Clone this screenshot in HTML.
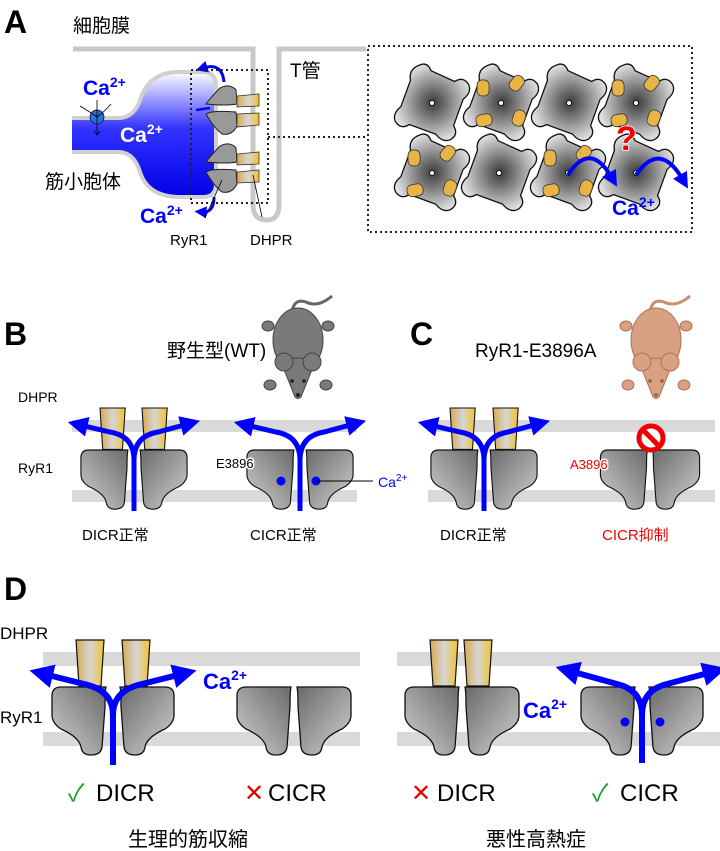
<!DOCTYPE html>
<html><head><meta charset="utf-8"><style>
html,body{margin:0;padding:0;background:#fff}
svg{display:block}
text{font-family:"Liberation Sans","Noto Sans CJK JP",sans-serif}
</style></head><body>
<svg width="720" height="851" viewBox="0 0 720 851" xmlns="http://www.w3.org/2000/svg">
<defs>
<linearGradient id="ry" x1="0" y1="1" x2="1" y2="0">
<stop offset="0" stop-color="#d2d2d2"/><stop offset="1" stop-color="#6a6a6a"/></linearGradient>
<linearGradient id="dh" x1="0" y1="0" x2="1" y2="0">
<stop offset="0" stop-color="#d9a94a"/><stop offset="0.5" stop-color="#d6d6d6"/><stop offset="1" stop-color="#f2c12e"/></linearGradient>
<linearGradient id="sr" x1="0" y1="0" x2="0" y2="1">
<stop offset="0" stop-color="#ffffff"/><stop offset="0.45" stop-color="#3333ff"/><stop offset="1" stop-color="#0000e6"/></linearGradient>
<radialGradient id="tile" cx="0.5" cy="0.5" r="0.6">
<stop offset="0" stop-color="#3a3a3a"/><stop offset="1" stop-color="#e0e0e0"/></radialGradient>
<marker id="ah" markerWidth="4" markerHeight="4" refX="1.5" refY="2" orient="auto" markerUnits="strokeWidth">
<path d="M0,0 L4,2 L0,4 Z" fill="#0000ff"/></marker>
<path id="half" d="M-3,0 L-48,0 Q-57,0 -57,9 L-57,28 Q-57,36 -48,42 Q-30,50 -28,60 Q-27,68 -18,68 Q-8,68 -7,60 L-4,20 Q-4,4 -3,0 Z" fill="url(#ry)" stroke="#111" stroke-width="1.3"/>
<g id="pairC"><use href="#half"/><use href="#half" transform="scale(-1,1)"/></g>
<g id="pairO"><use href="#half" transform="translate(-4,0)"/><use href="#half" transform="translate(4,0) scale(-1,1)"/></g>
<path id="dhp" d="M0,0 L28,0 L25,46 L3,46 Z" fill="url(#dh)" stroke="#111" stroke-width="1.2"/>
<g id="tl"><path d="M-24,-32 Q-18,-37 -12,-30 L14,-28 Q20,-36 28,-30 Q34,-24 28,-14 L28,14 Q36,20 30,28 Q24,34 14,28 L-14,28 Q-20,36 -28,30 Q-34,24 -28,14 L-28,-14 Q-34,-24 -24,-32 Z" fill="url(#tile)" stroke="#111" stroke-width="1.3" stroke-linejoin="round"/><circle r="2.5" fill="#fff" stroke="#000" stroke-width="0.8"/></g>
<rect id="yb" x="-6" y="-8" width="12" height="16" rx="5" fill="#e8b445" stroke="#333" stroke-width="0.8"/>
</defs>

<!-- Panel A -->
<text x="4" y="33" font-size="32" font-weight="bold">A</text>
<text x="73" y="32" font-size="19">細胞膜</text>
<path d="M73,49 L253,49 L253,205 Q253,220 267,220 Q279,220 279,205 L279,49 L366,49" fill="none" stroke="#c8c8c8" stroke-width="5"/>
<text x="290" y="77" font-size="19">T管</text>
<path d="M72,118 L118,118 Q134,118 140,100 Q148,74 175,72 L203,72 Q216,72 216,86 L216,184 Q216,197 203,197 L180,197 Q148,197 140,172 Q134,152 118,152 L72,152" fill="url(#sr)" stroke="#d0d0d0" stroke-width="4"/>
<text x="83" y="95" font-size="21" font-weight="bold" fill="#0000ff">Ca<tspan font-size="14" dy="-8">2+</tspan></text>
<text x="120" y="142" font-size="21" font-weight="bold" fill="#fff">Ca<tspan font-size="14" dy="-8">2+</tspan></text>
<circle cx="97" cy="117" r="7" fill="#2a6fd6" stroke="#114" stroke-width="0.8"/>
<path d="M80,106 Q90,112 97,117 Q104,112 111,104" fill="none" stroke="#000" stroke-width="0.8"/>
<path d="M97,100 L97,134 M94,131 L97,135 L100,131" fill="none" stroke="#000" stroke-width="0.8"/>
<text x="45" y="188" font-size="19">筋小胞体</text>
<text x="140" y="223" font-size="21" font-weight="bold" fill="#0000ff">Ca<tspan font-size="14" dy="-8">2+</tspan></text>
<path d="M224,82 Q222,62 203,68" fill="none" stroke="#0000ff" stroke-width="3" marker-end="url(#ah)"/>
<path d="M196,110 L210,108" stroke="#0000ff" stroke-width="2.5"/>
<path d="M214,197 Q214,213 202,212" fill="none" stroke="#0000ff" stroke-width="3" marker-end="url(#ah)"/>
<g fill="#999" stroke="#222" stroke-width="1">
<path d="M206,104 Q212,96 220,88 Q230,83 236,90 L237,104 Q226,106 206,104 Z"/>
<path d="M206,114 Q212,110 236,112 L237,126 Q232,136 222,134 Q214,128 206,114 Z"/>
<path d="M206,162 Q212,154 220,146 Q230,141 236,148 L237,162 Q226,164 206,162 Z"/>
<path d="M206,172 Q212,168 236,170 L237,184 Q232,194 222,192 Q214,186 206,172 Z"/>
</g>
<g fill="url(#dh)" stroke="#333" stroke-width="0.8">
<path d="M237,96 L259,94 L259,106 L237,107 Z"/><path d="M237,114 L259,113 L259,125 L237,127 Z"/>
<path d="M237,154 L259,152 L259,164 L237,165 Z"/><path d="M237,172 L259,170 L259,182 L237,183 Z"/>
</g>
<rect x="191" y="70" width="77" height="133" fill="none" stroke="#222" stroke-width="2" stroke-dasharray="2,3"/>
<path d="M268,137 L368,137" stroke="#222" stroke-width="2" stroke-dasharray="2,3"/>
<path d="M205,218 L222,180 M262,217 L253,175" stroke="#000" stroke-width="0.8"/>
<text x="170" y="245" font-size="15">RyR1</text>
<text x="250" y="245" font-size="15">DHPR</text>
<rect x="368" y="46" width="324" height="186" fill="none" stroke="#222" stroke-width="2" stroke-dasharray="2,3"/>
<g transform="translate(432,103) rotate(20)"><use href="#tl"/></g>
<g transform="translate(501,103) rotate(20)"><use href="#tl"/><use href="#yb" transform="translate(-22,-8) rotate(-20)"/><use href="#yb" transform="translate(8,-24) rotate(20)"/><use href="#yb" transform="translate(-10,22) rotate(60)"/><use href="#yb" transform="translate(22,8)"/></g>
<g transform="translate(569,103) rotate(20)"><use href="#tl"/></g>
<g transform="translate(636,103) rotate(20)"><use href="#tl"/><use href="#yb" transform="translate(-22,-8) rotate(-20)"/><use href="#yb" transform="translate(8,-24) rotate(20)"/><use href="#yb" transform="translate(-10,22) rotate(60)"/><use href="#yb" transform="translate(22,8)"/></g>
<g transform="translate(432,173) rotate(20)"><use href="#tl"/><use href="#yb" transform="translate(-22,-8) rotate(-20)"/><use href="#yb" transform="translate(8,-24) rotate(20)"/><use href="#yb" transform="translate(-10,22) rotate(60)"/><use href="#yb" transform="translate(22,8)"/></g>
<g transform="translate(499,173) rotate(20)"><use href="#tl"/></g>
<g transform="translate(568,173) rotate(20)"><use href="#tl"/><use href="#yb" transform="translate(-22,-8) rotate(-20)"/><use href="#yb" transform="translate(8,-24) rotate(20)"/><use href="#yb" transform="translate(-10,22) rotate(60)"/><use href="#yb" transform="translate(22,8)"/></g>
<g transform="translate(636,173) rotate(20)"><use href="#tl"/></g>
<text x="616" y="150" font-size="34" font-weight="bold" fill="#ee0000" stroke="#fff" stroke-width="1.5" paint-order="stroke">?</text>
<path d="M568,175 Q590,140 612,178" fill="none" stroke="#0000ff" stroke-width="4" marker-end="url(#ah)"/>
<path d="M636,175 Q660,140 683,180" fill="none" stroke="#0000ff" stroke-width="4" marker-end="url(#ah)"/>
<text x="612" y="215" font-size="21" font-weight="bold" fill="#0000ff">Ca<tspan font-size="14" dy="-8">2+</tspan></text>

<!-- Panel B -->
<text x="4" y="345" font-size="32" font-weight="bold">B</text>
<text x="167" y="357" font-size="19">野生型(WT)</text>
<g fill="#7a7a7a" stroke="#444" stroke-width="1">
<path d="M292,312 Q294,298 306,302 Q318,308 332,296" fill="none" stroke="#666" stroke-width="3"/>
<ellipse cx="268" cy="326" rx="6" ry="5"/><ellipse cx="328" cy="326" rx="6" ry="5"/>
<ellipse cx="270" cy="385" rx="6" ry="5"/><ellipse cx="326" cy="385" rx="6" ry="5"/>
<ellipse cx="298" cy="340" rx="25" ry="32"/>
<path d="M281,362 Q298,354 315,362 L301,397 Q298,400 295,397 Z"/>
<circle cx="284" cy="362" r="9"/><circle cx="312" cy="362" r="9"/></g>
<circle cx="292" cy="381" r="1.8" fill="#222"/><circle cx="304" cy="381" r="1.8" fill="#222"/><circle cx="298" cy="395" r="2" fill="#222"/>
<text x="18" y="402" font-size="14">DHPR</text>
<text x="18" y="473" font-size="14">RyR1</text>
<rect x="72" y="420" width="285" height="12" fill="#d9d9d9"/>
<rect x="72" y="490" width="285" height="12" fill="#d9d9d9"/>
<g transform="translate(100,408) scale(0.9)"><use href="#dhp"/></g>
<g transform="translate(142,408) scale(0.9)"><use href="#dhp"/></g>
<g transform="translate(134,450) scale(0.87,0.87)"><use href="#pairO"/></g>
<g transform="translate(300,450) scale(0.87,0.87)"><use href="#pairO"/></g>
<g fill="none" stroke="#0000ff" stroke-width="5" marker-end="url(#ah)">
<path d="M134,511 L134,460 Q134,436 110,432 L80,425"/><path d="M134,460 Q134,436 158,432 L188,424"/>
<path d="M300,511 L300,460 Q300,436 276,432 L246,425"/><path d="M300,460 Q300,436 324,432 L354,424"/></g>
<circle cx="281" cy="481" r="4.5" fill="#0000ff"/><circle cx="316" cy="481" r="4.5" fill="#0000ff"/>
<path d="M316,481 L373,481" stroke="#000" stroke-width="1"/>
<text x="378" y="487" font-size="14" fill="#0000ff">Ca<tspan font-size="10" dy="-6">2+</tspan></text>
<text x="216" y="468" font-size="13" stroke="#fff" stroke-width="3" paint-order="stroke">E3896</text>
<text x="82" y="540" font-size="15">DICR正常</text>
<text x="250" y="540" font-size="15">CICR正常</text>

<!-- Panel C -->
<text x="410" y="345" font-size="32" font-weight="bold">C</text>
<text x="475" y="357" font-size="19">RyR1-E3896A</text>
<g fill="#d9a184" stroke="#b07050" stroke-width="1">
<path d="M650,312 Q652,298 664,302 Q676,308 690,296" fill="none" stroke="#c98f70" stroke-width="3"/>
<ellipse cx="626" cy="326" rx="6" ry="5"/><ellipse cx="686" cy="326" rx="6" ry="5"/>
<ellipse cx="628" cy="385" rx="6" ry="5"/><ellipse cx="684" cy="385" rx="6" ry="5"/>
<ellipse cx="656" cy="340" rx="25" ry="32"/>
<path d="M639,362 Q656,354 673,362 L659,397 Q656,400 653,397 Z"/>
<circle cx="642" cy="362" r="9"/><circle cx="670" cy="362" r="9"/></g>
<circle cx="650" cy="381" r="1.8" fill="#a06040"/><circle cx="662" cy="381" r="1.8" fill="#a06040"/><circle cx="656" cy="395" r="2" fill="#a06040"/>
<rect x="428" y="420" width="287" height="12" fill="#d9d9d9"/>
<rect x="428" y="490" width="287" height="12" fill="#d9d9d9"/>
<g transform="translate(450,408) scale(0.9)"><use href="#dhp"/></g>
<g transform="translate(493,408) scale(0.9)"><use href="#dhp"/></g>
<g transform="translate(484,450) scale(0.87,0.87)"><use href="#pairO"/></g>
<g transform="translate(650,450) scale(0.87,0.87)"><use href="#pairC"/></g>
<g fill="none" stroke="#0000ff" stroke-width="5" marker-end="url(#ah)">
<path d="M484,511 L484,460 Q484,436 460,432 L430,425"/><path d="M484,460 Q484,436 508,432 L538,424"/></g>
<circle cx="651" cy="438" r="12" fill="#fff" stroke="#ee0000" stroke-width="5"/>
<path d="M643,430 L659,446" stroke="#ee0000" stroke-width="5"/>
<text x="570" y="469" font-size="13" fill="#ee0000" stroke="#fff" stroke-width="3" paint-order="stroke">A3896</text>
<text x="440" y="540" font-size="15">DICR正常</text>
<text x="602" y="540" font-size="15" fill="#ee0000">CICR抑制</text>

<!-- Panel D -->
<text x="4" y="600" font-size="32" font-weight="bold">D</text>
<text x="0" y="639" font-size="17">DHPR</text>
<text x="0" y="723" font-size="17">RyR1</text>
<rect x="43" y="652" width="317" height="14" fill="#d9d9d9"/>
<rect x="43" y="732" width="317" height="14" fill="#d9d9d9"/>
<rect x="397" y="652" width="323" height="14" fill="#d9d9d9"/>
<rect x="397" y="732" width="323" height="14" fill="#d9d9d9"/>
<g transform="translate(76,640)"><use href="#dhp"/></g>
<g transform="translate(122,640)"><use href="#dhp"/></g>
<g transform="translate(113,687)"><use href="#pairO"/></g>
<g transform="translate(294,687)"><use href="#pairC"/></g>
<g fill="none" stroke="#0000ff" stroke-width="6" marker-end="url(#ah)">
<path d="M113,765 L113,715 Q113,692 88,685 L44,674"/><path d="M113,715 Q113,692 138,685 L182,674"/></g>
<text x="203" y="689" font-size="22" font-weight="bold" fill="#0000ff">Ca<tspan font-size="14" dy="-9">2+</tspan></text>
<g transform="translate(430,640)"><use href="#dhp"/></g>
<g transform="translate(464,640)"><use href="#dhp"/></g>
<g transform="translate(462,687)"><use href="#pairC"/></g>
<g transform="translate(642,687)"><use href="#pairO"/></g>
<g fill="none" stroke="#0000ff" stroke-width="6" marker-end="url(#ah)">
<path d="M642,763 L642,715 Q642,690 617,684 L570,671"/><path d="M642,715 Q642,690 667,684 L712,672"/></g>
<circle cx="625" cy="722" r="4.5" fill="#0000ff"/><circle cx="660" cy="722" r="4.5" fill="#0000ff"/>
<text x="523" y="718" font-size="22" font-weight="bold" fill="#0000ff">Ca<tspan font-size="14" dy="-9">2+</tspan></text>
<text x="68" y="801" font-size="24" fill="#19a02c">✓</text>
<text x="96" y="801" font-size="24">DICR</text>
<text x="244" y="801" font-size="24" fill="#ee0000">✕</text>
<text x="268" y="801" font-size="24">CICR</text>
<text x="411" y="801" font-size="24" fill="#ee0000">✕</text>
<text x="437" y="801" font-size="24">DICR</text>
<text x="592" y="801" font-size="24" fill="#19a02c">✓</text>
<text x="620" y="801" font-size="24">CICR</text>
<text x="128" y="846" font-size="20">生理的筋収縮</text>
<text x="486" y="846" font-size="20">悪性高熱症</text>
</svg>
</body></html>
